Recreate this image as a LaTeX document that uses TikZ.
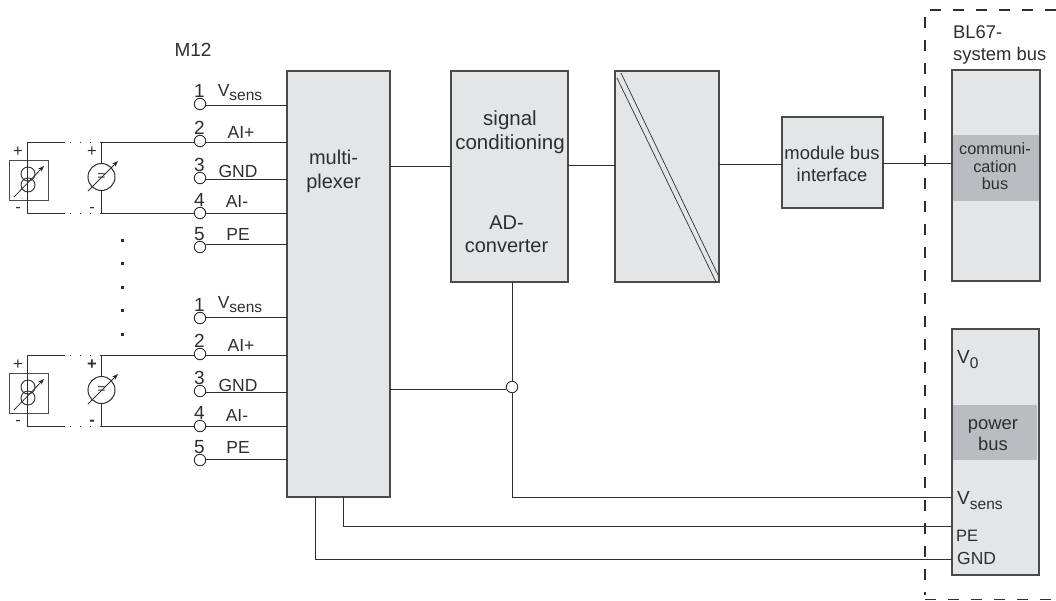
\documentclass[tikz,border=0pt]{standalone}
\usepackage{fontspec}
\setmainfont{Liberation Sans}
\usetikzlibrary{arrows.meta}
\definecolor{boxgray}{HTML}{E4E5E7}
\definecolor{bandgray}{HTML}{BBBCBF}
\definecolor{linegray}{HTML}{4A4A4A}
\definecolor{inkgray}{HTML}{2E2E2E}
\newcommand{\vsub}[1]{V\raisebox{-0.45ex}{\fontsize{15.5}{15.5}\selectfont #1}}
\tikzset{
    blockbox/.style={draw=linegray, fill=boxgray, line width=1.2pt, inner sep=0pt, outer sep=0pt},
    bandbox/.style={fill=bandgray, inner sep=0pt, outer sep=0pt},
    wire/.style={draw=inkgray, line width=0.9pt},
    gapwire/.style={draw=inkgray, line width=0.9pt, dash pattern=on 1pt off 9pt},
    termcirc/.style={circle, draw=inkgray, fill=white, line width=0.9pt, minimum size=11.5pt, inner sep=0pt, outer sep=0pt},
    lab/.style={text=inkgray, inner sep=0pt, text height=13pt, text depth=0pt},
    para/.style={text=inkgray, inner sep=0pt, align=center},
    sizearrow/.style={draw=inkgray, line width=0.8pt, -{Stealth[length=6pt,width=4.5pt]}},
}
\begin{document}
\begin{tikzpicture}[x=1pt, y=-1pt]
    \useasboundingbox (0,0) rectangle (1056,600);

    % main blocks
    \node[blockbox, minimum width=103pt, minimum height=426pt] (mux) at (338.5,284) {};
    \node[blockbox, minimum width=117pt, minimum height=211pt] (adc) at (509.5,176.5) {};
    \node[blockbox, minimum width=104pt, minimum height=211pt] (iso) at (667,176.5) {};
    \node[blockbox, minimum width=101pt, minimum height=91pt] (modbus) at (832.5,162.5) {};
    \node[blockbox, minimum width=88pt, minimum height=211pt] (commbox) at (996,175.5) {};
    \node[blockbox, minimum width=87pt, minimum height=246pt] (powerbox) at (995.5,452) {};
    \node[bandbox, minimum width=86pt, minimum height=66pt] (commband) at (996,168) {};
    \node[bandbox, minimum width=84pt, minimum height=55pt] (powerband) at (995,432.5) {};

    \node[para, font=\fontsize{20}{24}\selectfont] (muxtext) at (333.5,171) {multi-\\plexer};
    \node[para, font=\fontsize{20.5}{24}\selectfont] (sigtext) at (510,132) {signal\\conditioning};
    \node[para, font=\fontsize{20}{23}\selectfont] (adtext) at (506.5,234) {AD-\\converter};
    \node[para, font=\fontsize{18.4}{22}\selectfont] (modtext) at (832,163.5) {module bus\\interface};
    \node[para, font=\fontsize{16.3}{17.5}\selectfont] (commtext) at (995,166.5) {communi-\\cation\\bus};
    \node[para, font=\fontsize{18.4}{21}\selectfont] (powertext) at (993,435.5) {power\\bus};
    \node[para, align=left, anchor=west, font=\fontsize{18.4}{22}\selectfont] (systext) at (953,45) {BL67-\\system bus};
    \node[lab, font=\fontsize{19}{22}\selectfont] (m12) at (193,50) {M12};

    \node[lab, anchor=west, font=\fontsize{19}{22}\selectfont] (vzero) at (957,357) {\vsub{0}};
    \node[lab, anchor=west, font=\fontsize{19}{22}\selectfont] (vsens) at (957,498) {\vsub{sens}};
    \node[lab, anchor=west, font=\fontsize{16.5}{20}\selectfont] (petext) at (956,535) {PE};
    \node[lab, anchor=west, font=\fontsize{17.5}{20}\selectfont] (gndtext) at (957,558) {GND};

    % diagonal of the isolation block
    \coordinate (isoa) at (621,73);
    \coordinate (isob) at (718,275);
    \coordinate (isoc) at (617,78);
    \coordinate (isod) at (716,282);
    \draw[wire, line width=0.7pt] (isoa) -- (isob);
    \draw[wire, line width=0.7pt] (isoc) -- (isod);

    % block connections
    \draw[wire] (mux.east |- 0,166) -- (adc.west |- 0,166);
    \draw[wire] (adc.east |- 0,165) -- (iso.west |- 0,165);
    \draw[wire] (iso.east |- 0,164) -- (modbus.west |- 0,164);
    \draw[wire] (modbus.east |- 0,163) -- (commbox.west |- 0,163);

    \node[termcirc] (junc) at (512,387) {};
    \draw[wire] (adc.south -| junc) -- (junc.north);
    \draw[wire] (mux.east |- 0,389) -- (junc.west |- 0,389);
    \draw[wire] (junc.south) -- (512,497) -- (powerbox.west |- 0,497);
    \draw[wire] (mux.south -| 343,0) -- (343,526) -- (powerbox.west |- 0,526);
    \draw[wire] (mux.south -| 315,0) -- (315,559) -- (powerbox.west |- 0,559);

    % M12 terminals
    \foreach \g/\n/\yw/\yc/\lab/\xl/\yl in {
        a/1/105/104/\vsub{sens}/240/90, a/2/142/141/AI+/241/132, a/3/179/178/GND/238/171,
        a/4/213/213/AI-/237/201, a/5/244/247/PE/238/234,
        b/1/317/318/\vsub{sens}/240/302, b/2/355/354/AI+/241/345, b/3/392/391/GND/238/385,
        b/4/426/426/AI-/237/415, b/5/459/460/PE/238/447} {
        \node[termcirc] (t\g\n) at (200,\yc) {};
        \coordinate (w\g\n) at (200,\yw);
        \node[lab, font=\fontsize{19}{20}\selectfont] (num\g\n) at (199.5,\yc-13) {\n};
        \node[lab, font=\fontsize{17.5}{20}\selectfont] (lab\g\n) at (\xl,\yl) {\lab};
        \draw[wire] (t\g\n.east |- w\g\n) -- (mux.west |- w\g\n);
    }

    % the two sensors
    \foreach \g/\yo/\sgn in {a/0/\normalfont, b/213/\bfseries} {
        \node[draw=linegray, line width=1pt, minimum width=39pt, minimum height=40pt, inner sep=0pt] (box\g) at (28.5,180+\yo) {};
        \node[circle, draw=inkgray, line width=0.9pt, minimum size=14pt, inner sep=0pt] (ca\g) at (28,174+\yo) {};
        \node[circle, draw=inkgray, line width=0.9pt, minimum size=14pt, inner sep=0pt] (cb\g) at (28,185+\yo) {};
        \node[circle, draw=inkgray, line width=1pt, minimum size=27pt, inner sep=0pt, font=\fontsize{14}{14}\selectfont, text=inkgray] (meter\g) at (101.5,177+\yo) {=};
        \coordinate (ul\g) at (27,142+\yo);
        \coordinate (ll\g) at (27,213+\yo);
        \coordinate (ug\g) at (65,142+\yo);
        \coordinate (lg\g) at (65,213+\yo);
        \coordinate (um\g) at (101,142+\yo);
        \coordinate (lm\g) at (101,213+\yo);
        \coordinate (ba\g) at (14,197+\yo);
        \coordinate (bb\g) at (44,166+\yo);
        \coordinate (ma\g) at (88,191+\yo);
        \coordinate (mb\g) at (118,161+\yo);
        \draw[wire] (t\g2.west |- w\g2) -- (um\g);
        \draw[wire] (t\g4.west |- w\g4) -- (lm\g);
        \draw[gapwire] (um\g) -- (ug\g);
        \draw[gapwire] (lm\g) -- (lg\g);
        \draw[wire] (ug\g) -- (ul\g) -- (ll\g) -- (lg\g);
        \draw[wire] (um\g) -- (meter\g.north -| um\g);
        \draw[wire] (meter\g.south -| lm\g) -- (lm\g);
        \draw[sizearrow] (ba\g) -- (bb\g);
        \draw[sizearrow] (ma\g) -- (mb\g);
        \node[lab, font=\fontsize{16.5}{17}\selectfont] (pa\g) at (18,150+\yo) {+};
        \node[lab, font=\fontsize{16.5}{17}\selectfont] (ma\g txt) at (18,206+\yo) {-};
        \node[lab, font=\fontsize{16.5}{17}\sgn] (pb\g) at (92,150+\yo) {+};
        \node[lab, font=\fontsize{16.5}{17}\sgn] (mb\g txt) at (92,206+\yo) {-};
    }

    % dots between the groups
    \foreach \y in {240,263,287,310,334} {
        \fill[inkgray] (120.5,\y-1.5) rectangle (123.5,\y+1.5);
    }

    % module border
    \coordinate (dtopr) at (1056,10);
    \coordinate (dtopl) at (925,10);
    \coordinate (dbotl) at (925,595);
    \coordinate (dcorn) at (925,599);
    \coordinate (dbotr) at (1056,599);
    \draw[inkgray, line width=1.7pt, dash pattern=on 11pt off 12pt] (dtopr) -- (dtopl) -- (dbotl);
    \draw[inkgray, line width=1pt, dash pattern=on 11pt off 12pt] (dcorn) -- (dbotr);
\end{tikzpicture}
\end{document}
